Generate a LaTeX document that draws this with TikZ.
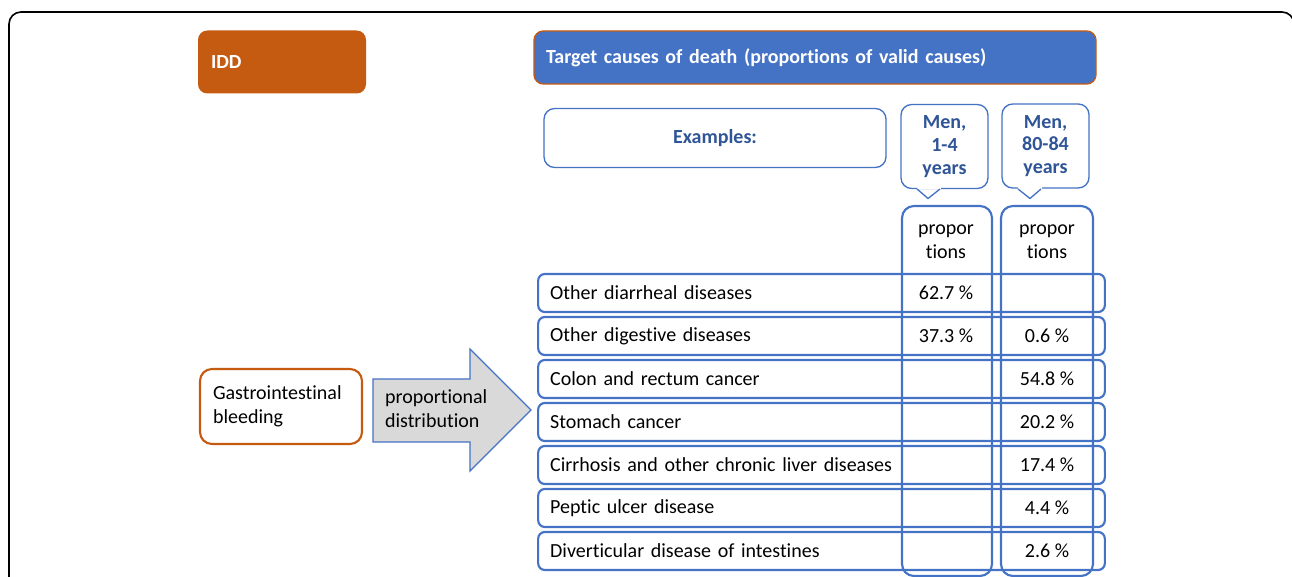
\documentclass[tikz,border=0pt]{standalone}
\usepackage{fontspec}
\setmainfont{Carlito}[Ligatures=NoCommon]
\usetikzlibrary{positioning}
\definecolor{iddorange}{HTML}{C55A11}
\definecolor{tgtblue}{HTML}{4472C4}
\definecolor{hdblue}{HTML}{2F5597}
\definecolor{arrowgray}{HTML}{D9D9D9}
\tikzset{
every picture/.style={
line width=1pt
}}

\begin{document}
\begin{tikzpicture}[x=0.75pt, y=-0.75pt, font=\fontsize{15}{18}\selectfont,
head/.style = {rectangle, rounded corners=7pt, align=left},
rowbox/.style = {rectangle, draw=tgtblue, line width=1.6pt, rounded corners=5pt, minimum height=28.5pt, inner xsep=9pt, text width=407pt, align=left},
colbox/.style = {rectangle, draw=tgtblue, line width=1.6pt, rounded corners=9pt, minimum height=277.5pt},
bubble/.style = {rectangle, draw=tgtblue, rounded corners=8pt, fill=white, text=hdblue, font=\fontsize{15}{17}\selectfont\bfseries, align=center, minimum width=65.25pt, minimum height=63pt, inner sep=0pt},
pct/.style = {inner sep=0pt}]

\useasboundingbox (0,0) rectangle (1292,577);
\clip (0,0) rectangle (1292,577);

% outer frame
\draw[black, line width=1.2pt, rounded corners=9pt] (9,620) -- (9,12) -- (1294,12) -- (1294,620);

% headers
\node[head, fill=iddorange, text=white, font=\fontsize{15}{18}\selectfont\bfseries, inner xsep=9.75pt, text width=106.5pt, minimum height=47.25pt] (idd) at (282,62) {IDD};
\node[head, fill=tgtblue, draw=iddorange, text=white, font=\fontsize{15}{18}\selectfont\bfseries, inner xsep=9pt, text width=403.5pt, minimum height=39.75pt] (target) at (815,57.5) {Target causes of death (proportions of valid causes)};
\node[rectangle, draw=tgtblue, rounded corners=8pt, text=hdblue, font=\fontsize{15}{18}\selectfont\bfseries, minimum width=256.5pt, minimum height=44.25pt] (examples) at (715,138) {Examples:};

% age groups
\node[bubble] (men1) at (944.5,146.5) {Men,\\1-4\\years};
\node[bubble] (men80) at (1045.5,146) {Men,\\80-84\\years};
\fill[white] (916.5,186) rectangle (940.5,189);
\draw[tgtblue] (917,189) -- (928,198.5) -- (940,189);
\fill[white] (1017.5,186) rectangle (1041.5,189);
\draw[tgtblue] (1018,189) -- (1030,198.5) -- (1041,189);

% proportion columns
\node[colbox, minimum width=67.5pt] (col1) at (947,391) {};
\node[colbox, minimum width=69pt] (col2) at (1047,391) {};
\node[align=center] (h1) at (946,241.5) {propor\\tions};
\node[align=center] (h2) at (1047,241.5) {propor\\tions};

% causes
\foreach \cause/\pa/\pb [count=\i] in {
  Other diarrheal diseases/62.7 \%/{},
  Other digestive diseases/37.3 \%/0.6 \%,
  Colon and rectum cancer/{}/54.8 \%,
  Stomach cancer/{}/20.2 \%,
  Cirrhosis and other chronic liver diseases/{}/17.4 \%,
  Peptic ulcer disease/{}/4.4 \%,
  Diverticular disease of intestines/{}/2.6 \%}
{
  \pgfmathsetmacro\ry{250+43*\i}
  \node[rowbox] (row\i) at (821.5,\ry) {\cause};
  \node[pct] (pa\i) at (946,\ry) {\pa};
  \node[pct] (pb\i) at (1047,\ry) {\pb};
}

% source and distribution arrow
\node[head, draw=iddorange, line width=1.6pt, rounded corners=9pt, inner xsep=9.75pt, text width=102pt, minimum height=56.25pt] (gib) at (281,406.5) {Gastrointestinal\\bleeding};
\draw[tgtblue, fill=arrowgray] (373,379) -- (470,379) -- (470,349) -- (531,410) -- (470,471) -- (470,442) -- (373,442) -- cycle;
\node[align=left, anchor=west] (dist) at (380,409) {proportional\\distribution};
\end{tikzpicture}
\end{document}
